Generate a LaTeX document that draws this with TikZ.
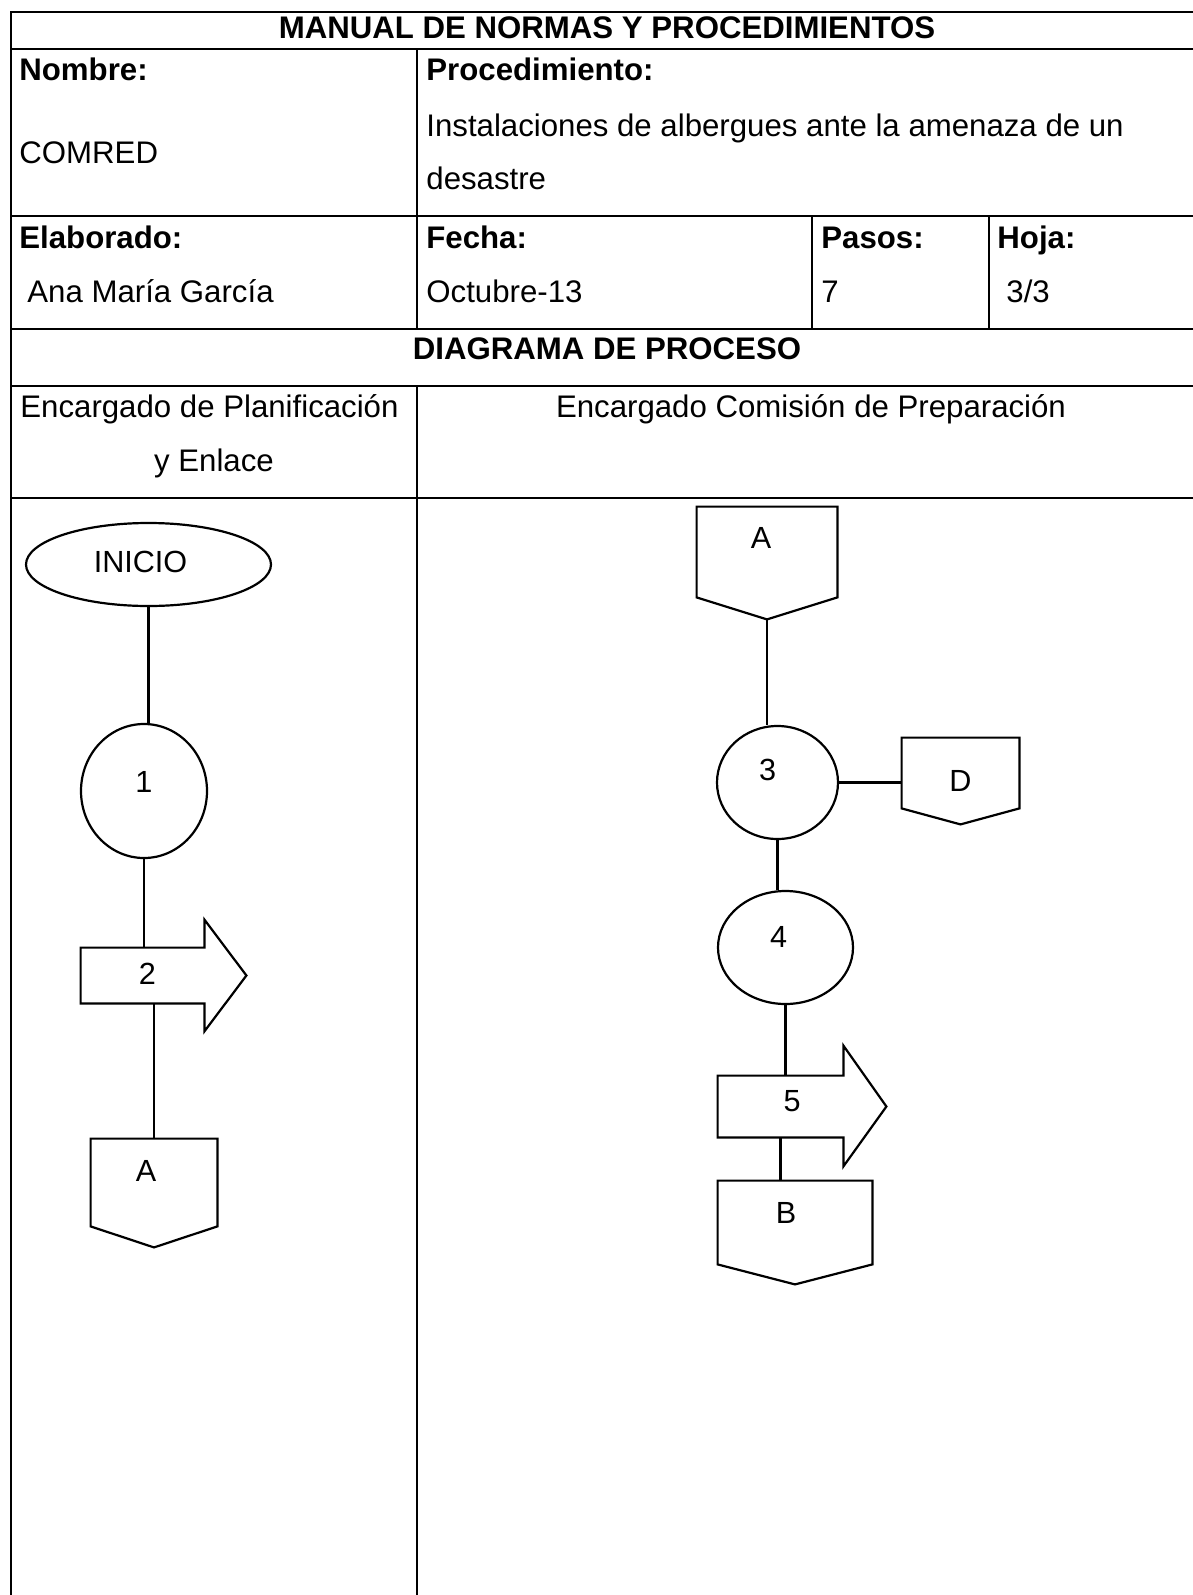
\documentclass[tikz,border=0pt]{standalone}
\usepackage{fontspec}
\setmainfont{Liberation Sans}
\usetikzlibrary{shapes.geometric,calc}

\newcommand{\txt}{\fontsize{15.6}{18}\selectfont}
\newcommand{\lbl}{\fontsize{15.3}{18}\selectfont}

\tikzset{
  tabla/.style={line width=1.4pt},
  conn/.style={line width=1.1pt},
  texto/.style={anchor=base west, inner sep=0pt, font=\txt},
  negrita/.style={texto, font=\txt\bfseries},
  centrado/.style={anchor=base, inner sep=0pt, font=\txt},
  proceso/.style={ellipse, draw, line width=1.1pt, inner sep=0pt, font=\lbl, text height=11pt},
  cuerpo/.style={rectangle, inner sep=0pt, font=\lbl, text height=11pt},
}

\begin{document}
\begin{tikzpicture}[x=0.5pt, y=-0.5pt]
\useasboundingbox (0,0) rectangle (1193,1595);

\draw[tabla] (1193,12) -- (11,12) -- (11,1595);
\draw[tabla] (11,49) -- (1193,49);
\draw[tabla] (11,216) -- (1193,216);
\draw[tabla] (11,329) -- (1193,329);
\draw[tabla] (11,386) -- (1193,386);
\draw[tabla] (11,498) -- (1193,498);
\draw[tabla] (417,49) -- (417,329);
\draw[tabla] (417,386) -- (417,1595);
\draw[tabla] (812,216) -- (812,329);
\draw[tabla] (989,216) -- (989,329);

\node[centrado, font=\txt\bfseries] (manual) at (607,39) {MANUAL DE NORMAS Y PROCEDIMIENTOS};

\node[negrita] (nombre) at (19,81) {Nombre:};
\node[texto] (comred) at (19,163) {COMRED};
\node[negrita] (proced) at (426,81) {Procedimiento:};
\node[texto] (instA) at (426,136) {Instalaciones de albergues ante la amenaza de un};
\node[texto] (instB) at (426,190) {desastre};

\node[negrita] (elab) at (19,248) {Elaborado:};
\node[texto] (autora) at (27,302) {Ana María García};
\node[negrita] (fecha) at (426,248) {Fecha:};
\node[texto] (fechaval) at (426,302) {Octubre-13};
\node[negrita] (pasos) at (821,248) {Pasos:};
\node[texto] (pasosval) at (821,302) {7};
\node[negrita] (hoja) at (997,248) {Hoja:};
\node[texto] (hojaval) at (1006,302) {3/3};

\node[centrado, font=\txt\bfseries] (diagrama) at (607,359) {DIAGRAMA DE PROCESO};
\node[texto] (carril1a) at (20,417) {Encargado de Planificación};
\node[centrado] (carril1b) at (214,471) {y Enlace};
\node[centrado] (carril2) at (811,417) {Encargado Comisión de Preparación};

\node[proceso, minimum width=122.5pt, minimum height=41.5pt, text depth=3.5pt] (inicio) at (148.5,564.5) {INICIO\hspace*{8pt}};
\node[proceso, minimum width=63pt, minimum height=67pt, text depth=10pt] (p1) at (144,791) {1};
\node[cuerpo, minimum width=61.5pt, minimum height=27.5pt, text depth=2.5pt] (s2) at (142.5,975.5) {\hspace*{5pt}2};
\draw[conn] (s2.north west) -- (s2.north east) -- ($(s2.north east)+(0,-28)$) -- ($(s2.east)+(42,0)$) -- ($(s2.south east)+(0,28)$) -- (s2.south east) -- (s2.south west) -- cycle;
\node[cuerpo, minimum width=63pt, minimum height=43.5pt, text depth=12.5pt] (a1) at (154,1182.5) {A\hspace*{8pt}};
\draw[conn] (a1.north west) -- (a1.north east) -- (a1.south east) -- ($(a1.south)+(0,21)$) -- (a1.south west) -- cycle;

\draw[conn] (inicio.south) -- (inicio.south |- p1.north);
\draw[conn] (p1.south) -- (p1.south |- s2.north);
\draw[conn] (a1.north) -- (a1.north |- s2.south);

\node[cuerpo, minimum width=70pt, minimum height=45pt, text depth=15pt] (a2) at (767,552) {A\hspace*{6pt}};
\draw[conn] (a2.north west) -- (a2.north east) -- (a2.south east) -- ($(a2.south)+(0,22)$) -- (a2.south west) -- cycle;
\coordinate (a2punta) at ($(a2.south)+(0,22)$);
\node[proceso, minimum width=60.5pt, minimum height=56.5pt, text depth=13.5pt] (p3) at (777.5,782.5) {3\hspace*{10pt}};
\node[cuerpo, minimum width=58.5pt, minimum height=35pt, text height=18pt, text depth=0pt] (d1) at (960.5,773) {D};
\draw[conn] (d1.north west) -- (d1.north east) -- (d1.south east) -- ($(d1.south)+(0,16)$) -- (d1.south west) -- cycle;
\node[proceso, minimum width=67.5pt, minimum height=56.5pt, text depth=11.5pt] (p4) at (785.5,947.5) {4\hspace*{7pt}};
\node[cuerpo, minimum width=62.5pt, minimum height=30.5pt, text depth=6.5pt] (s5) at (780.5,1106.5) {\hspace*{11.5pt}5};
\draw[conn] (s5.north west) -- (s5.north east) -- ($(s5.north east)+(0,-30)$) -- ($(s5.east)+(43,0)$) -- ($(s5.south east)+(0,29)$) -- (s5.south east) -- (s5.south west) -- cycle;
\node[cuerpo, minimum width=77pt, minimum height=41.5pt, text depth=10.5pt] (b1) at (795,1222.5) {B\hspace*{9pt}};
\draw[conn] (b1.north west) -- (b1.north east) -- (b1.south east) -- ($(b1.south)+(0,20)$) -- (b1.south west) -- cycle;

\draw[conn] (a2punta) -- (a2punta |- p3.north);
\draw[conn] (p3.east) -- (p3.east -| d1.west);
\draw[conn] (p3.south) -- (p3.south |- p4.north);
\draw[conn] (p4.south) -- (p4.south |- s5.north);
\draw[conn] (s5.south) -- (s5.south |- b1.north);
\end{tikzpicture}
\end{document}
